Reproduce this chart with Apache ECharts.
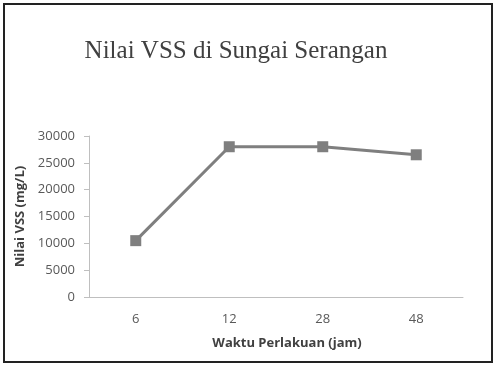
<!DOCTYPE html>
<html><head><meta charset="utf-8">
<script src="https://cdn.jsdelivr.net/npm/echarts@6/dist/echarts.min.js"></script>
<style>html,body{margin:0;padding:0;background:#fff}#c{width:496px;height:368px}</style>
</head><body><div id="c"></div>
<script>
const categories = ['6', '12', '28', '48'];
const vssValues = [10500, 28000, 28000, 26500];
const yTicks = [0, 5000, 10000, 15000, 20000, 25000, 30000];

const chart = echarts.init(document.getElementById('c'));
chart.setOption({
  animation: false,
  backgroundColor: '#fff',
  title: {
    text: 'Nilai VSS di Sungai Serangan',
    left: 231, top: 34, textAlign: 'center',
    textStyle: {fontFamily: 'Liberation Serif', fontSize: 25, fontWeight: 'normal', color: '#404040'}
  },
  graphic: [{
    type: 'rect', shape: {x: 4, y: 4, width: 488, height: 358},
    style: {fill: 'none', stroke: '#222', lineWidth: 2},
    silent: true
  }],
  grid: {left: 89, right: 33, top: 136, bottom: 71},
  xAxis: {
    type: 'category', data: categories, boundaryGap: true,
    name: 'Waktu Perlakuan (jam)', nameLocation: 'middle', nameGap: 40,
    nameTextStyle: {fontFamily: 'Open Sans', fontSize: 13, fontWeight: 'bold', color: '#404040', padding: [0,0,0,22]},
    axisLine: {lineStyle: {color: '#bfbfbf', width: 1}},
    axisTick: {show: false},
    axisLabel: {fontFamily: 'Open Sans', fontSize: 13, color: '#595959', margin: 16}
  },
  yAxis: {
    type: 'value', min: yTicks[0], max: yTicks[yTicks.length-1], interval: 5000,
    name: 'Nilai VSS (mg/L)', nameLocation: 'middle', nameGap: 62,
    nameTextStyle: {fontFamily: 'Open Sans', fontSize: 13, fontWeight: 'bold', color: '#404040'},
    axisLine: {show: true, lineStyle: {color: '#bfbfbf', width: 1}},
    axisTick: {show: true, length: 5, lineStyle: {color: '#bfbfbf'}},
    splitLine: {show: false},
    axisLabel: {fontFamily: 'Open Sans', fontSize: 13, color: '#595959', margin: 14, formatter: v => String(v)}
  },
  series: [{
    type: 'line', data: vssValues,
    symbol: 'rect', symbolSize: 11,
    lineStyle: {color: '#7f7f7f', width: 3},
    itemStyle: {color: '#7f7f7f'}
  }]
});
</script></body></html>
